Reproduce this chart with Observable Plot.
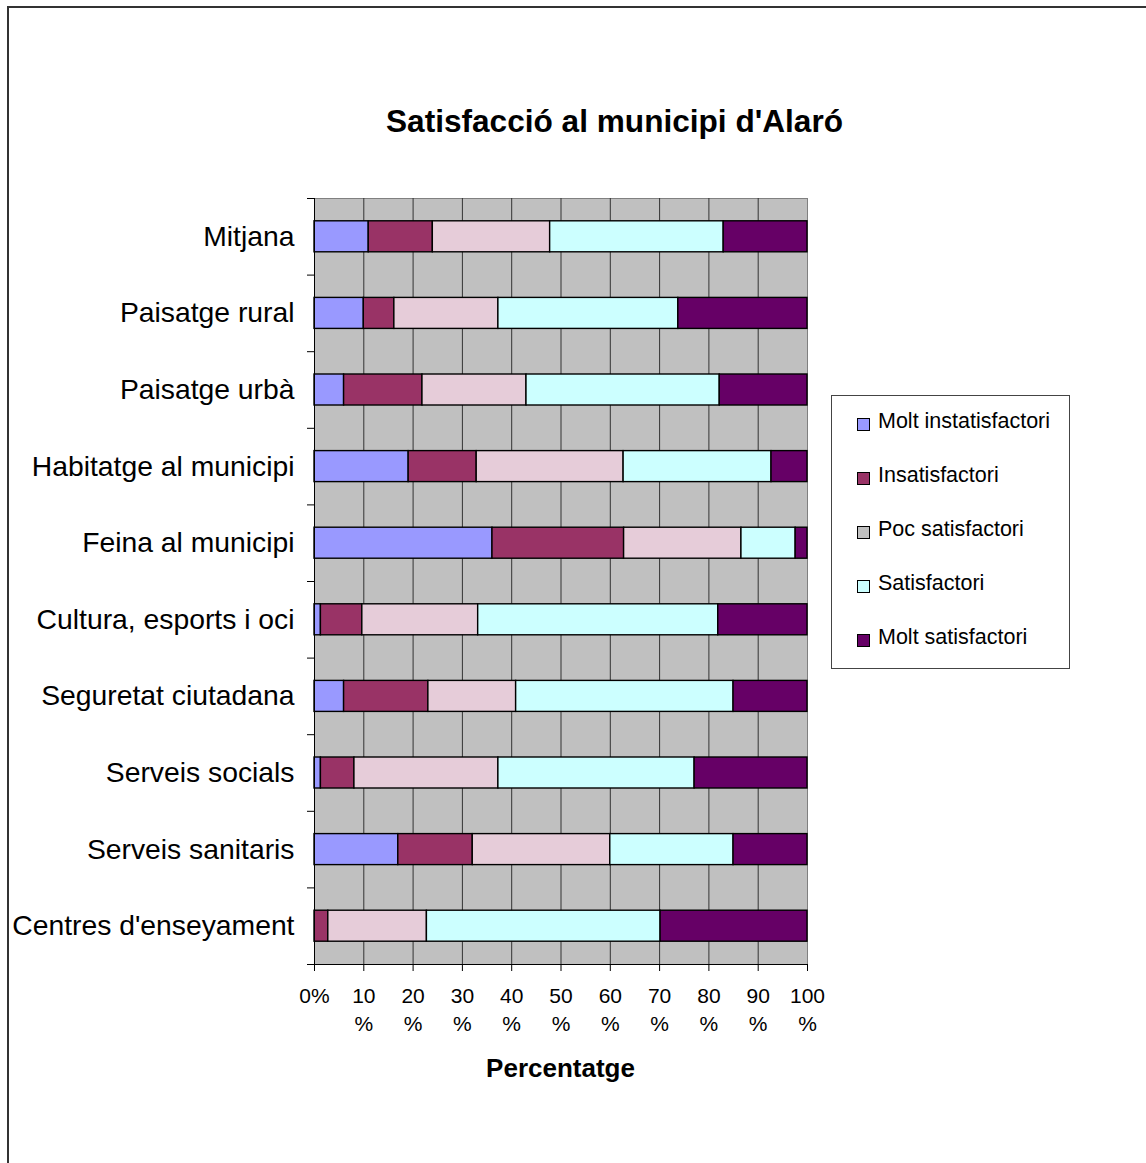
<!DOCTYPE html>
<html>
<head>
<meta charset="utf-8">
<script src="https://cdn.jsdelivr.net/npm/d3@7"></script>
<script src="https://cdn.jsdelivr.net/npm/@observablehq/plot@0.6"></script>
<style>
  html, body { margin: 0; padding: 0; background: #fff; }
  #wrap { position: relative; width: 1146px; height: 1163px; overflow: hidden; font-family: "Liberation Sans", Arial, sans-serif; color: #000; }
  #border { position: absolute; left: 7px; top: 6px; width: 3000px; height: 3000px; border: 2px solid #333; box-sizing: border-box; }
  #chart { position: absolute; left: 0; top: 0; }
  .title { position: absolute; white-space: nowrap; transform: translateX(-50%); font-weight: bold; }
  #legend { position: absolute; left: 831px; top: 395px; width: 239px; height: 274px; border: 1px solid #444; box-sizing: border-box; background: #fff; }
  .item { position: absolute; left: 0; height: 22px; font-size: 21.5px; line-height: 21.5px; white-space: nowrap; }
  .sw { position: absolute; left: 25px; top: 7px; width: 12.5px; height: 12.5px; border: 1px solid #000; box-sizing: border-box; }
  .lab { position: absolute; left: 46px; top: 0; }
</style>
</head>
<body>
<div id="wrap">
  <div id="border"></div>
  <div id="chart"></div>
  <div class="title" id="title" style="left:614.5px; top:106.3px; font-size:31.6px; line-height:31.6px;"></div>
  <div class="title" id="xlabel" style="left:560.5px; top:1054.7px; font-size:26px; line-height:26px;"></div>
  <div id="legend"></div>
</div>
<script>
const titleText = "Satisfacció al municipi d'Alaró";
const xAxisTitle = "Percentatge";
const categories = ["Mitjana", "Paisatge rural", "Paisatge urbà", "Habitatge al municipi", "Feina al municipi", "Cultura, esports i oci", "Seguretat ciutadana", "Serveis socials", "Serveis sanitaris", "Centres d'enseyament"];
const series = ["Molt instatisfactori", "Insatisfactori", "Poc satisfactori", "Satisfactori", "Molt satisfactori"];
const barColors = ["#9999FF", "#993366", "#E6CCD9", "#CCFFFF", "#660066"];
const legendColors = ["#9999FF", "#993366", "#C0C0C0", "#CCFFFF", "#660066"];
const moltInsatisfactori = [11, 10, 6, 19.1, 36.1, 1.3, 6, 1.3, 17, 0];
const insatisfactori = [13, 6.2, 15.9, 13.8, 26.7, 8.4, 17.1, 6.8, 15.1, 2.8];
const pocSatisfactori = [23.8, 21.1, 21.1, 29.8, 23.8, 23.5, 17.8, 29.2, 27.9, 20];
const satisfactori = [35.2, 36.5, 39.2, 30, 11, 48.7, 44.1, 39.8, 25, 47.4];
const moltSatisfactori = [17, 26.2, 17.8, 7.3, 2.4, 18.1, 15, 22.9, 15, 29.8];
const xTicks = [0, 10, 20, 30, 40, 50, 60, 70, 80, 90, 100];

const seriesValues = [moltInsatisfactori, insatisfactori, pocSatisfactori, satisfactori, moltSatisfactori];
const rows = categories.flatMap((cat, i) => {
  let acc = 0;
  return seriesValues.map((vals, s) => {
    const x1 = acc; acc += vals[i];
    return {cat, i, series: series[s], x1, x2: acc};
  });
});

const chart = Plot.plot({
  width: 1146,
  height: 1163,
  marginLeft: 314,
  marginRight: 339,
  marginTop: 198,
  marginBottom: 199,
  style: {fontFamily: '"Liberation Sans", Arial, sans-serif', color: "#000", background: "transparent"},
  x: {domain: [0, 100]},
  y: {domain: [0, categories.length], reverse: true},
  color: {domain: series, range: barColors},
  marks: [
    Plot.frame({fill: "#C0C0C0", stroke: "#808080"}),
    Plot.ruleX(xTicks.slice(1, -1), {stroke: "#333", strokeWidth: 1}),
    Plot.rectX(rows, {
      x1: "x1", x2: "x2",
      y1: "i", y2: d => d.i + 1,
      insetTop: 22.8, insetBottom: 22.8,
      fill: "series", stroke: "#000", strokeWidth: 1.4
    }),
    Plot.ruleX([0], {stroke: "#000"}),
    Plot.ruleY([categories.length], {stroke: "#000"}),
    Plot.axisX({
      ticks: xTicks, tickSize: 7, tickPadding: 12,
      tickFormat: d => d === 0 ? "0%" : `${d}\n%`,
      fontSize: 21, lineHeight: 1.33, label: null
    }),
    Plot.axisY({
      ticks: d3.range(0, categories.length + 1), tickSize: 7,
      tickFormat: () => "", label: null
    }),
    Plot.axisY({
      ticks: categories.map((c, i) => i + 0.5), tickSize: 0, tickPadding: 20,
      tickFormat: v => categories[Math.floor(v)], fontSize: 28.3, label: null
    })
  ]
});
document.getElementById("chart").appendChild(chart);
document.getElementById("title").textContent = titleText;
document.getElementById("xlabel").textContent = xAxisTitle;

const legend = document.getElementById("legend");
series.forEach((name, k) => {
  const item = document.createElement("div");
  item.className = "item";
  item.style.top = (15 + k * 54) + "px";
  const sw = document.createElement("div");
  sw.className = "sw";
  sw.style.background = legendColors[k];
  const lab = document.createElement("div");
  lab.className = "lab";
  lab.textContent = name;
  item.appendChild(sw);
  item.appendChild(lab);
  legend.appendChild(item);
});
</script>
</body>
</html>
